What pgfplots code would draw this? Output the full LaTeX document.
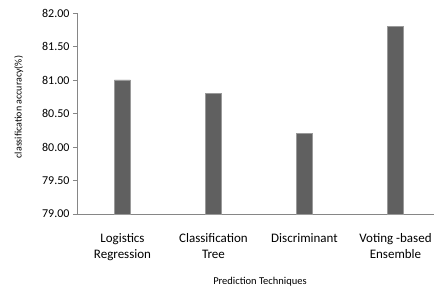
\documentclass[border=0pt]{standalone}
\usepackage{pgfplots}
\pgfplotsset{compat=1.18}
\usepackage{fontspec}
\setmainfont{Carlito}
\definecolor{barfill}{HTML}{606060}
\definecolor{barline}{HTML}{9A9A9A}
\definecolor{axisgray}{HTML}{868686}
\begin{document}
\begin{tikzpicture}
\begin{axis}[
  scale only axis,
  width=356.7pt, height=201pt,
  xmin=-0.5, xmax=3.42,
  ymin=79, ymax=82,
  ytick={79,79.5,80,80.5,81,81.5,82},
  yticklabel style={font=\fontsize{12}{14}\selectfont},
  /pgf/number format/fixed,
  /pgf/number format/fixed zerofill,
  /pgf/number format/precision=2,
  /pgf/number format/assume math mode=true,
  xtick={0,1,2,3},
  xticklabels={{Logistics\\Regression},{Classification\\Tree},Discriminant,{Voting -based\\Ensemble}},
  xticklabel style={align=center, font=\fontsize{13}{16}\selectfont, anchor=north, yshift=-12pt},
  major tick length=4pt,
  xtick style={draw=none},
  ytick style={axisgray},
  tick align=outside,
  axis x line*=bottom,
  axis y line*=left,
  axis line style={axisgray},
  separate axis lines,
  x axis line style={-},
  y axis line style={-},
  ylabel={classification accuracy(\%)},
  ylabel style={font=\fontsize{10}{11}\selectfont, at={(axis description cs:-0.163,0.532)}, anchor=center},
  xlabel={Prediction Techniques},
  xlabel style={font=\fontsize{10.5}{11}\selectfont, at={(axis description cs:0.513,0)}, anchor=center, yshift=-68pt},
  ybar, bar width=16pt,
  clip=false,
]
\addplot[fill=barfill, draw=barline, line width=0.6pt, bar shift=0pt] coordinates {(0,81.0) (1,80.8) (2,80.2) (3,81.8)};
\end{axis}
\pgfresetboundingbox
\path (current axis.south west) ++(-77pt,-77pt) rectangle ++(434pt,291pt);
\end{tikzpicture}
\end{document}
